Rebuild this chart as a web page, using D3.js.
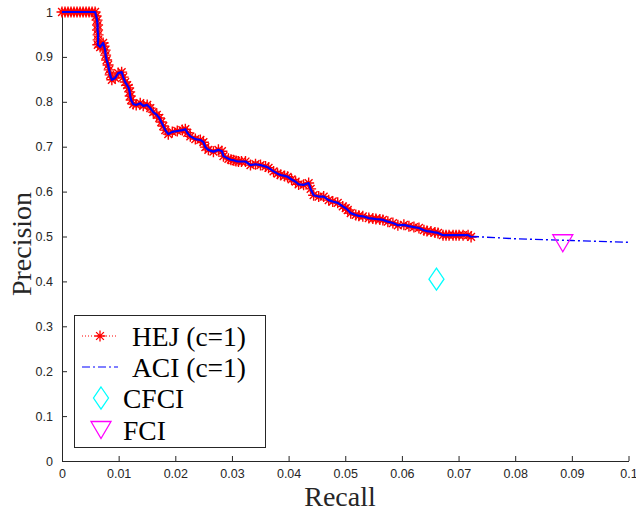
<!DOCTYPE html>
<html>
<head>
<meta charset="utf-8">
<script src="https://cdn.jsdelivr.net/npm/d3@7"></script>
<style>
  body { margin: 0; background: #fff; }
  svg { display: block; }
</style>
</head>
<body>
<div id="chart"></div>
<script>
// HEJ (c=1) precision / recall points
const hejRecall = [
  0, 0.00053, 0.00106, 0.00159, 0.00212, 0.00265, 0.00319, 0.00372, 0.00425, 0.00478, 0.00531, 0.00584,
  0.00602, 0.00619, 0.00628, 0.00628, 0.00637, 0.00637, 0.00632, 0.00673, 0.00726, 0.00743, 0.00761, 0.00770,
  0.00788, 0.00814, 0.00832, 0.00850, 0.00880, 0.00938, 0.00991, 0.01053, 0.01080, 0.01115, 0.01150, 0.01177,
  0.01195, 0.01204, 0.01221, 0.01257, 0.01310, 0.01381, 0.01434, 0.01504, 0.01558, 0.01611, 0.01673, 0.01717,
  0.01752, 0.01788, 0.01823, 0.01876, 0.01947, 0.02035, 0.02124, 0.02177, 0.02212, 0.02265, 0.02354, 0.02442,
  0.02496, 0.02531, 0.02584, 0.02673, 0.02761, 0.02823, 0.02850, 0.02938, 0.02982, 0.03027, 0.03071, 0.03115,
  0.03168, 0.03239, 0.03327, 0.03416, 0.03504, 0.03593, 0.03646, 0.03735, 0.03805, 0.03858, 0.03929, 0.03982,
  0.04053, 0.04124, 0.04177, 0.04265, 0.04354, 0.04389, 0.04442, 0.04531, 0.04619, 0.04708, 0.04779, 0.04867,
  0.04956, 0.05009, 0.05044, 0.05097, 0.05186, 0.05239, 0.05310, 0.05416, 0.05487, 0.05540, 0.05611, 0.05664,
  0.05752, 0.05841, 0.05929, 0.06035, 0.06124, 0.06212, 0.06301, 0.06389, 0.06442, 0.06513, 0.06584, 0.06637,
  0.06726, 0.06779, 0.06832, 0.06903, 0.06956, 0.07009, 0.07080, 0.07168, 0.07221
];
const hejPrecision = [
  1, 1, 1, 1, 1, 1, 1, 1, 1, 1, 1, 1,
  0.991, 0.982, 0.971, 0.960, 0.949, 0.938, 0.927, 0.922, 0.931, 0.924, 0.915, 0.904,
  0.893, 0.882, 0.871, 0.860, 0.849, 0.853, 0.864, 0.866, 0.855, 0.844, 0.837, 0.831,
  0.822, 0.813, 0.804, 0.795, 0.793, 0.797, 0.791, 0.793, 0.786, 0.777, 0.771, 0.764,
  0.755, 0.746, 0.737, 0.728, 0.733, 0.735, 0.737, 0.739, 0.731, 0.723, 0.717, 0.715,
  0.710, 0.699, 0.693, 0.689, 0.693, 0.690, 0.679, 0.673, 0.671, 0.670, 0.668, 0.667,
  0.667, 0.667, 0.659, 0.661, 0.659, 0.656, 0.653, 0.645, 0.640, 0.637, 0.635, 0.633,
  0.627, 0.622, 0.616, 0.615, 0.619, 0.606, 0.592, 0.589, 0.589, 0.581, 0.578, 0.575,
  0.567, 0.563, 0.559, 0.552, 0.548, 0.546, 0.545, 0.541, 0.540, 0.539, 0.538, 0.537,
  0.533, 0.530, 0.525, 0.526, 0.523, 0.521, 0.519, 0.514, 0.512, 0.511, 0.509, 0.508,
  0.503, 0.503, 0.503, 0.503, 0.503, 0.503, 0.503, 0.503, 0.499
];
// ACI (c=1) follows the HEJ curve, then carries on past it
const aciTailRecall = [0.0727, 0.08, 0.09, 0.1];
const aciTailPrecision = [0.500, 0.495, 0.491, 0.487];
const cfciRecall = [0.0661];
const cfciPrecision = [0.405];
const fciRecall = [0.0884];
const fciPrecision = [0.485];

const xTicks = [0, 0.01, 0.02, 0.03, 0.04, 0.05, 0.06, 0.07, 0.08, 0.09, 0.1];
const yTicks = [0, 0.1, 0.2, 0.3, 0.4, 0.5, 0.6, 0.7, 0.8, 0.9, 1];
const legendLabels = ["HEJ (c=1)", "ACI (c=1)", "CFCI", "FCI"];

const width = 636, height = 509;
const axisColor = "#262626";

const svg = d3.select("#chart").append("svg")
  .attr("width", width)
  .attr("height", height);

const x = d3.scaleLinear().domain([0, 0.1]).range([62, 628.5]);
const y = d3.scaleLinear().domain([0, 1]).range([461, 12]);

//Axes
const fmt = d => d === 0 ? "0" : String(+d.toFixed(2));
const xAxis = svg.append("g")
  .attr("transform", "translate(0," + y(0) + ")")
  .call(d3.axisBottom(x).tickValues(xTicks).tickFormat(fmt).tickSizeInner(-5).tickSizeOuter(0).tickPadding(8.4));
const yAxis = svg.append("g")
  .attr("transform", "translate(" + x(0) + ",0)")
  .call(d3.axisLeft(y).tickValues(yTicks).tickFormat(fmt).tickSizeInner(-5).tickSizeOuter(0).tickPadding(9));
[xAxis, yAxis].forEach(g => {
  g.select(".domain").attr("stroke", axisColor);
  g.selectAll(".tick line").attr("stroke", axisColor);
  g.selectAll(".tick text").attr("fill", axisColor)
    .attr("font-family", "'Liberation Sans', Arial, sans-serif").attr("font-size", 12.5);
});

//Axis titles
svg.append("text")
  .attr("x", 340).attr("y", 506)
  .attr("text-anchor", "middle")
  .attr("font-family", "'Liberation Serif', 'Times New Roman', serif")
  .attr("font-size", 28).attr("fill", axisColor)
  .text("Recall");
svg.append("text")
  .attr("transform", "translate(31,244)rotate(-90)")
  .attr("text-anchor", "middle")
  .attr("font-family", "'Liberation Serif', 'Times New Roman', serif")
  .attr("font-size", 28).attr("fill", axisColor)
  .text("Precision");

// marker shapes
const starPath = r => {
  const a = r * 0.7071;
  return "M" + (-r) + ",0L" + r + ",0M0," + (-r) + "L0," + r +
    "M" + (-a) + "," + (-a) + "L" + a + "," + a + "M" + (-a) + "," + a + "L" + a + "," + (-a);
};
const diamondPath = (w, h) => "M0," + (-h) + "L" + w + ",0L0," + h + "L" + (-w) + ",0Z";
const triPath = (w, h) => "M" + (-w) + "," + (-h / 2) + "L" + w + "," + (-h / 2) + "L0," + (h / 2) + "Z";

const hejData = hejRecall.map((r, i) => ({ r: r, p: hejPrecision[i] }));
const aciTail = [hejData[hejData.length - 1]].concat(aciTailRecall.map((r, i) => ({ r: r, p: aciTailPrecision[i] })));

const line = d3.line().x(d => x(d.r)).y(d => y(d.p));

// HEJ dotted line + star markers
svg.append("path").datum(hejData)
  .attr("d", line).attr("fill", "none")
  .attr("stroke", "#ff0000").attr("stroke-width", 1).attr("stroke-dasharray", "1,2");
svg.append("g").selectAll("path").data(hejData).join("path")
  .attr("transform", d => "translate(" + x(d.r) + "," + y(d.p) + ")")
  .attr("d", starPath(5.5))
  .attr("fill", "none").attr("stroke", "#ff0000").attr("stroke-width", 1.4);

// ACI: dense part looks solid, tail is dash-dot
svg.append("path").datum(hejData)
  .attr("d", line).attr("fill", "none")
  .attr("stroke", "#0000ff").attr("stroke-width", 2.2).attr("stroke-linejoin", "round");
svg.append("path").datum(aciTail)
  .attr("d", line).attr("fill", "none")
  .attr("stroke", "#0000ff").attr("stroke-width", 1.4).attr("stroke-dasharray", "8,3,2,3");

// CFCI and FCI
svg.append("g").selectAll("path").data(cfciRecall).join("path")
  .attr("transform", (d, i) => "translate(" + x(d) + "," + y(cfciPrecision[i]) + ")")
  .attr("d", diamondPath(7.5, 11))
  .attr("fill", "none").attr("stroke", "#00ffff").attr("stroke-width", 1.3);
svg.append("g").selectAll("path").data(fciRecall).join("path")
  .attr("transform", (d, i) => "translate(" + x(d) + "," + y(fciPrecision[i]) + ")")
  .attr("d", triPath(10, 17))
  .attr("fill", "none").attr("stroke", "#ff00ff").attr("stroke-width", 1.3);

//Legend
const legend = svg.append("g");
legend.append("rect")
  .attr("x", 74.5).attr("y", 315.5).attr("width", 191).attr("height", 132)
  .attr("fill", "#fff").attr("stroke", axisColor).attr("stroke-width", 1);
const rowY = [336, 367, 398, 430];
const textX = [132, 132, 123, 123];
legendLabels.forEach((label, i) => {
  legend.append("text")
    .attr("x", textX[i]).attr("y", rowY[i] + 9.5)
    .attr("font-family", "'Liberation Serif', 'Times New Roman', serif")
    .attr("font-size", 27.5).attr("fill", "#000")
    .text(label);
});
legend.append("line").attr("x1", 82).attr("x2", 118).attr("y1", rowY[0]).attr("y2", rowY[0])
  .attr("stroke", "#ff0000").attr("stroke-width", 1).attr("stroke-dasharray", "1,2");
legend.append("path").attr("transform", "translate(100," + rowY[0] + ")")
  .attr("d", starPath(5.5)).attr("fill", "none").attr("stroke", "#ff0000").attr("stroke-width", 1.3);
legend.append("line").attr("x1", 82).attr("x2", 118).attr("y1", rowY[1]).attr("y2", rowY[1])
  .attr("stroke", "#0000ff").attr("stroke-width", 1.2).attr("stroke-dasharray", "8,3,2,3");
legend.append("path").attr("transform", "translate(101," + rowY[2] + ")")
  .attr("d", diamondPath(7.5, 11)).attr("fill", "none").attr("stroke", "#00ffff").attr("stroke-width", 1.3);
legend.append("path").attr("transform", "translate(101," + rowY[3] + ")")
  .attr("d", triPath(10, 17)).attr("fill", "none").attr("stroke", "#ff00ff").attr("stroke-width", 1.3);
</script>
</body>
</html>
